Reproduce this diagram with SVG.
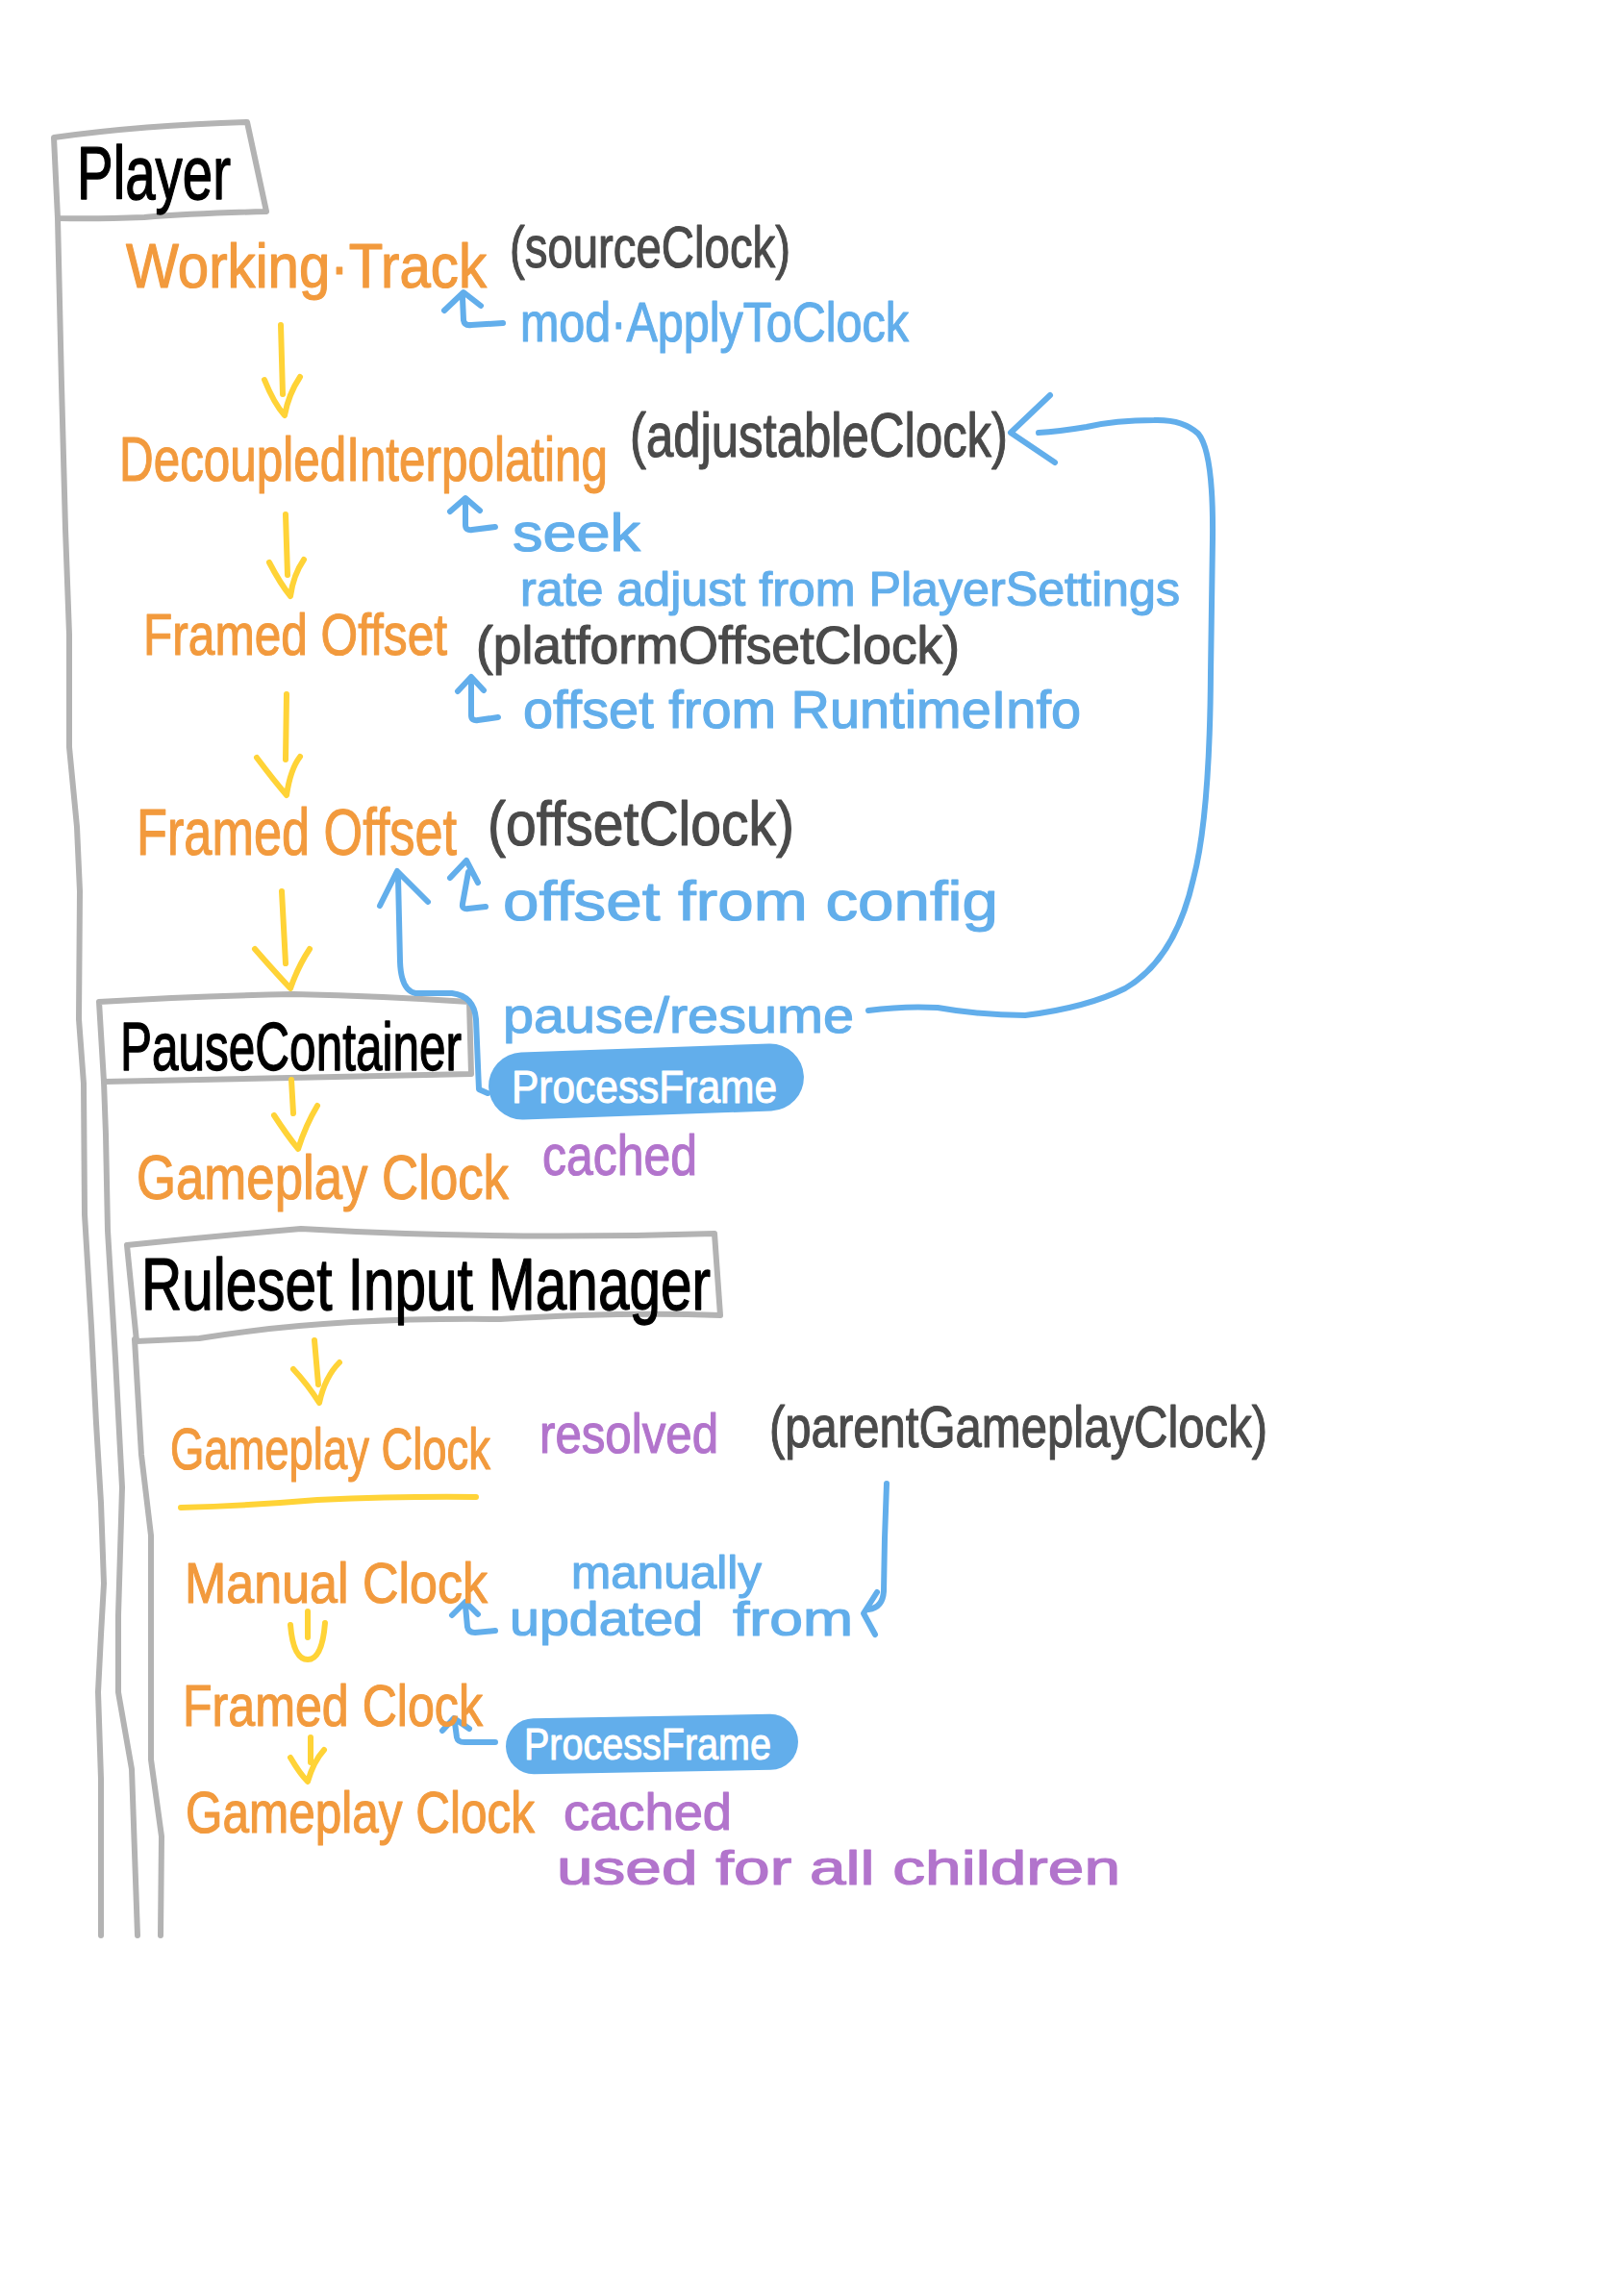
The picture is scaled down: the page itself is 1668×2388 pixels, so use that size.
<svg xmlns="http://www.w3.org/2000/svg" width="1668" height="2388" viewBox="0 0 1668 2388">
<style>
text{font-family:"Liberation Sans",Arial,sans-serif;stroke-linejoin:round}
.o{fill:#F29A3D;stroke:#F29A3D;stroke-width:1.2}
.d{fill:#4A4A4A;stroke:#4A4A4A;stroke-width:1.2}
.b{fill:#62AEEB;stroke:#62AEEB;stroke-width:1.2}
.p{fill:#B274CC;stroke:#B274CC;stroke-width:1.2}
.k{fill:#000;stroke:#000;stroke-width:1.4}
.w{fill:#fff;stroke:#fff;stroke-width:1}
.gl{fill:none;stroke:#B3B3B3;stroke-width:6;stroke-linecap:round;stroke-linejoin:round}
.yl{fill:none;stroke:#FFD337;stroke-width:6;stroke-linecap:round;stroke-linejoin:round}
.bl{fill:none;stroke:#62AEEB;stroke-width:6;stroke-linecap:round;stroke-linejoin:round}
.pill{fill:#62AEEB}
</style>
<rect width="1668" height="2388" fill="#fff"/>

<g id="containers">
  <g id="player">
    <path class="gl" d="M56,143 Q150,130 257,127 L277,220 Q200,222 150,226 Q100,228 60,227 Z"/>
    <path class="gl" d="M60,227 L64,400 L68,550 L72,660 L72,777 L80,860 L83,927 L82,1060 L87,1127 L88,1263 L95,1380 L100,1480 L105,1563 L108,1647 L105,1700 L102,1760 L105,1850 L105,2013"/>
    <text class="k" x="80" y="207" font-size="78" textLength="160" lengthAdjust="spacingAndGlyphs">Player</text>
  </g>
  <g id="pause-container">
    <path class="gl" d="M103,1042 Q200,1036 305,1034 Q400,1036 488,1042 L490,1117 Q300,1121 108,1125 Z"/>
    <path class="gl" d="M108,1125 L110,1180 L112,1280 L120,1413 L127,1547 L123,1680 L123,1760 L137,1840 L143,2013"/>
    <text class="k" x="125" y="1113" font-size="70" textLength="355" lengthAdjust="spacingAndGlyphs">PauseContainer</text>
  </g>
  <g id="ruleset-input-manager">
    <path class="gl" d="M132,1295 Q220,1286 313,1278 Q520,1290 743,1283 L749,1368 Q650,1364 520,1372 Q340,1370 207,1392 L142,1395 Z"/>
    <path class="gl" d="M140,1393 L147,1513 L157,1597 L157,1830 L168,1910 L167,2013"/>
    <text class="k" x="147" y="1362" font-size="76" textLength="592" lengthAdjust="spacingAndGlyphs">Ruleset Input Manager</text>
  </g>
</g>

<g id="connectors">
  <!-- yellow flow arrows -->
  <path class="yl" d="M292,338 L294,410 M275,395 Q285,420 296,432 Q300,410 312,392"/>
  <path class="yl" d="M297,535 L299,598 M280,585 Q292,608 302,620 Q305,598 316,582"/>
  <path class="yl" d="M298,722 L297,790 M267,788 Q285,812 298,827 Q302,800 312,787"/>
  <path class="yl" d="M293,927 L297,1002 M265,987 Q285,1010 302,1028 Q310,1005 322,987"/>
  <path class="yl" d="M303,1123 L305,1158 M285,1160 Q298,1180 310,1195 Q318,1170 330,1150"/>
  <path class="yl" d="M327,1394 L331,1440 M305,1424 Q320,1440 332,1459 Q338,1432 353,1417"/>
  <path class="yl" d="M188,1568 Q260,1566 330,1560 Q420,1556 495,1557"/>
  <path class="yl" d="M320,1676 L320,1703 M302,1690 Q305,1726 320,1726 Q335,1726 338,1688"/>
  <path class="yl" d="M323,1807 L323,1833 M302,1828 Q312,1845 320,1853 Q326,1832 337,1820"/>

  <!-- blue hooks -->
  <path class="bl" d="M462,323 L482,304 L500,318 M481,310 L482,333 Q483,339 490,338 L523,336"/>
  <path class="bl" d="M468,532 L484,518 L499,531 M484,522 L484,546 Q484,552 491,551 L515,548"/>
  <path class="bl" d="M476,719 L490,704 L503,718 M490,708 L490,744 Q490,750 497,749 L518,746"/>
  <path class="bl" d="M468,913 L485,895 L497,918 M487,907 L481,940 Q480,946 487,945 L505,943"/>
  <path class="bl" d="M470,1680 L484,1666 L497,1679 M484,1670 L486,1692 Q487,1698 494,1698 L515,1696"/>
  <path class="bl" d="M460,1800 L472,1787 L488,1798 M473,1792 L475,1807 Q476,1812 483,1812 L515,1812"/>

  <!-- pause/resume loop to adjustableClock -->
  <path class="bl" d="M903,1051 Q940,1046 975,1048 Q1020,1056 1066,1056 Q1130,1048 1170,1028 Q1222,998 1241,914 Q1258,850 1259,700 L1261,560 Q1262,470 1246,451 Q1230,436 1200,437 Q1160,437 1130,444 Q1100,449 1080,450"/>
  <path class="bl" d="M1092,411 L1051,450 L1097,481"/>

  <!-- ProcessFrame to offsetClock -->
  <path class="bl" d="M507,1137 L498,1133 L495,1060 Q493,1036 470,1033 L432,1033 Q417,1030 416,1000 L414,912"/>
  <path class="bl" d="M395,942 L413,906 L445,938"/>

  <!-- parentGameplayClock to manual clock -->
  <path class="bl" d="M922,1543 L920,1600 L919,1655 Q918,1672 903,1674"/>
  <path class="bl" d="M912,1656 L898,1678 L910,1700"/>
</g>

<g id="n-working-track">
  <text class="o" x="131" y="299" font-size="64" textLength="375" lengthAdjust="spacingAndGlyphs">Working·Track</text>
  <text class="d" x="530" y="278" font-size="62" textLength="292" lengthAdjust="spacingAndGlyphs">(sourceClock)</text>
  <text class="b" x="541" y="355" font-size="58" textLength="404" lengthAdjust="spacingAndGlyphs">mod·ApplyToClock</text>
</g>
<g id="n-decoupled">
  <text class="o" x="124" y="500" font-size="64" textLength="508" lengthAdjust="spacingAndGlyphs">DecoupledInterpolating</text>
  <text class="d" x="655" y="475" font-size="64" textLength="393" lengthAdjust="spacingAndGlyphs">(adjustableClock)</text>
  <text class="b" x="533" y="573" font-size="56" textLength="133" lengthAdjust="spacingAndGlyphs">seek</text>
  <text class="b" x="541" y="630" font-size="50" textLength="686" lengthAdjust="spacingAndGlyphs">rate adjust from PlayerSettings</text>
</g>
<g id="n-framed-offset-platform">
  <text class="o" x="149" y="681" font-size="62" textLength="316" lengthAdjust="spacingAndGlyphs">Framed Offset</text>
  <text class="d" x="495" y="690" font-size="56" textLength="503" lengthAdjust="spacingAndGlyphs">(platformOffsetClock)</text>
  <text class="b" x="544" y="757" font-size="56" textLength="580" lengthAdjust="spacingAndGlyphs">offset from RuntimeInfo</text>
</g>
<g id="n-framed-offset">
  <text class="o" x="142" y="889" font-size="68" textLength="333" lengthAdjust="spacingAndGlyphs">Framed Offset</text>
  <text class="d" x="507" y="879" font-size="64" textLength="319" lengthAdjust="spacingAndGlyphs">(offsetClock)</text>
  <text class="b" x="523" y="957" font-size="58" textLength="515" lengthAdjust="spacingAndGlyphs">offset from config</text>
</g>
<g id="n-pause-resume">
  <text class="b" x="523" y="1074" font-size="52" textLength="365" lengthAdjust="spacingAndGlyphs">pause/resume</text>
</g>
<g id="n-processframe-1">
  <rect class="pill" x="508" y="1090" width="328" height="70" rx="35" transform="rotate(-2 672 1125)"/>
  <text class="w" x="532" y="1147" font-size="48" textLength="276" lengthAdjust="spacingAndGlyphs">ProcessFrame</text>
</g>
<g id="n-gameplay-cached">
  <text class="o" x="142" y="1247" font-size="64" textLength="387" lengthAdjust="spacingAndGlyphs">Gameplay Clock</text>
  <text class="p" x="564" y="1222" font-size="60" textLength="161" lengthAdjust="spacingAndGlyphs">cached</text>
</g>
<g id="n-gameplay-resolved">
  <text class="o" x="177" y="1528" font-size="62" textLength="333" lengthAdjust="spacingAndGlyphs">Gameplay Clock</text>
  <text class="p" x="561" y="1511" font-size="58" textLength="186" lengthAdjust="spacingAndGlyphs">resolved</text>
  <text class="d" x="800" y="1505" font-size="62" textLength="518" lengthAdjust="spacingAndGlyphs">(parentGameplayClock)</text>
</g>
<g id="n-manual-clock">
  <text class="o" x="192" y="1667" font-size="60" textLength="315" lengthAdjust="spacingAndGlyphs">Manual Clock</text>
  <text class="b" x="594" y="1652" font-size="48" textLength="198" lengthAdjust="spacingAndGlyphs">manually</text>
  <text class="b" x="530" y="1701" font-size="50" textLength="201" lengthAdjust="spacingAndGlyphs">updated</text>
  <text class="b" x="762" y="1701" font-size="50" textLength="125" lengthAdjust="spacingAndGlyphs">from</text>
</g>
<g id="n-framed-clock">
  <text class="o" x="190" y="1795" font-size="62" textLength="312" lengthAdjust="spacingAndGlyphs">Framed Clock</text>
</g>
<g id="n-processframe-2">
  <rect class="pill" x="526" y="1785" width="304" height="58" rx="29" transform="rotate(-1 678 1814)"/>
  <text class="w" x="545" y="1830" font-size="46" textLength="257" lengthAdjust="spacingAndGlyphs">ProcessFrame</text>
</g>
<g id="n-gameplay-final">
  <text class="o" x="193" y="1906" font-size="62" textLength="363" lengthAdjust="spacingAndGlyphs">Gameplay Clock</text>
  <text class="p" x="586" y="1903" font-size="54" textLength="175" lengthAdjust="spacingAndGlyphs">cached</text>
  <text class="p" x="579" y="1960" font-size="50" textLength="586" lengthAdjust="spacingAndGlyphs">used for all children</text>
</g>
</svg>
